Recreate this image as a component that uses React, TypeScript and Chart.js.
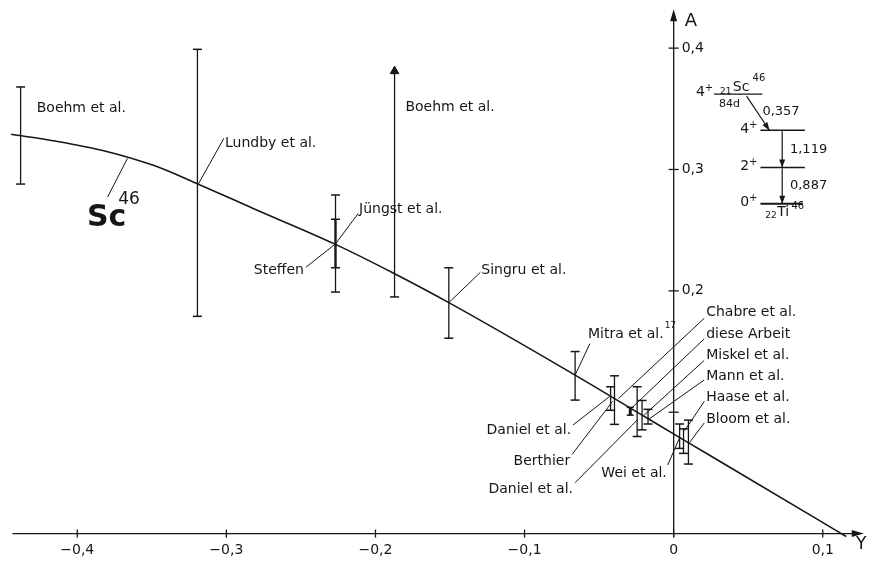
import React, { useEffect, useRef } from "react";
import { Chart, registerables } from "chart.js";

Chart.register(...registerables);

// ---- Data: theoretical curve A(Y) for Sc46 ----
const curveY = [-0.4444, -0.4147, -0.3816, -0.3485, -0.3188, -0.2824, -0.2275, -0.1878, -0.1508, -0.0661, -0.0179, 0.0086, 0.0351, 0.0959, 0.1157];
const curveA = [0.329, 0.3234, 0.3153, 0.3032, 0.2879, 0.2681, 0.2387, 0.2145, 0.1903, 0.1306, 0.0952, 0.0758, 0.0565, 0.0121, -0.0024];

// ---- Data: measurements with error bars ----
const barY = [-0.438, -0.3194, -0.2268, -0.2268, -0.1508, -0.0661, -0.0423, -0.0397, -0.0291, -0.0245, -0.0212, -0.0172, 0.004, 0.0066, 0.0099];
const barLow = [0.288, 0.179, 0.199, 0.219, 0.161, 0.11, 0.1016, 0.09, 0.0976, 0.08, 0.0855, 0.0903, 0.0702, 0.0661, 0.0573];
const barHigh = [0.368, 0.399, 0.279, 0.259, 0.219, 0.15, 0.121, 0.13, 0.104, 0.121, 0.1097, 0.1024, 0.0903, 0.0863, 0.0935];

// ---- Data: lower limit (arrow) ----
const limitY = [-0.1872];
const limitLow = [0.195];
const limitHigh = [0.381];

// ---- Axis ticks ----
const xTicks = [-0.4, -0.3, -0.2, -0.1, 0, 0.1];
const xTickLabels = ["\u22120,4", "\u22120,3", "\u22120,2", "\u22120,1", "0", "0,1"];
const yTicks = [0.1, 0.2, 0.3, 0.4];
const yTickLabels = ["", "0,2", "0,3", "0,4"];

// ---- View extents ----
const X_MIN = -0.4478;
const X_MAX = 0.129;
const Y_MIN = -0.0234;
const Y_MAX = 0.4347;

const INK = "#161616";
const FONT = '"DejaVu Sans", "Liberation Sans", sans-serif';

type Note = { t: string; x: number; y: number; align?: CanvasTextAlign; sup?: string; lead?: number[] };

const notes: Note[] = [
  { t: "Boehm et al.", x: -0.4272, y: 0.35 },
  { t: "Lundby et al.", x: -0.3009, y: 0.3218, lead: [-0.3188, 0.288, -0.3016, 0.3258] },
  { t: "Jüngst et al.", x: -0.211, y: 0.2669, lead: [-0.2268, 0.2387, -0.2116, 0.2637] },
  { t: "Steffen", x: -0.248, y: 0.2169, align: "right", lead: [-0.2268, 0.2387, -0.2467, 0.2194] },
  { t: "Boehm et al.", x: -0.1799, y: 0.3508 },
  { t: "Singru et al.", x: -0.129, y: 0.2169, lead: [-0.1508, 0.1903, -0.1296, 0.2153] },
  { t: "Mitra et al.", sup: "17", x: -0.0575, y: 0.1645, lead: [-0.0661, 0.1306, -0.0562, 0.1565] },
  { t: "Chabre et al.", x: 0.0218, y: 0.1823, lead: [0.0205, 0.1774, -0.037, 0.1113] },
  { t: "diese Arbeit", x: 0.0218, y: 0.1645, lead: [0.0205, 0.1605, -0.0284, 0.1032] },
  { t: "Miskel et al.", x: 0.0218, y: 0.1468, lead: [0.0205, 0.1427, -0.0205, 0.0968] },
  { t: "Mann et al.", x: 0.0218, y: 0.1298, lead: [0.0205, 0.1266, -0.0165, 0.0944] },
  { t: "Haase et al.", x: 0.0218, y: 0.1121, lead: [0.0205, 0.1089, 0.0073, 0.0847] },
  { t: "Bloom et al.", x: 0.0218, y: 0.0944, lead: [0.0205, 0.0911, 0.0106, 0.075] },
  { t: "Daniel et al.", x: -0.0688, y: 0.0847, align: "right", lead: [-0.0675, 0.0895, -0.043, 0.1129] },
  { t: "Berthier", x: -0.0694, y: 0.0597, align: "right", lead: [-0.0681, 0.0653, -0.041, 0.1089] },
  { t: "Daniel et al.", x: -0.0675, y: 0.0363, align: "right", lead: [-0.0661, 0.0419, -0.0245, 0.0935] },
  { t: "Wei et al.", x: -0.0046, y: 0.05, align: "right", lead: [-0.004, 0.0565, 0.004, 0.079] },
];

function arrowHead(ctx: CanvasRenderingContext2D, tx: number, ty: number, fx: number, fy: number, len: number, half: number) {
  const ang = Math.atan2(ty - fy, tx - fx);
  ctx.beginPath();
  ctx.moveTo(tx, ty);
  ctx.lineTo(tx - len * Math.cos(ang) + half * Math.sin(ang), ty - len * Math.sin(ang) - half * Math.cos(ang));
  ctx.lineTo(tx - len * Math.cos(ang) - half * Math.sin(ang), ty - len * Math.sin(ang) + half * Math.cos(ang));
  ctx.closePath();
  ctx.fill();
}

function seg(ctx: CanvasRenderingContext2D, a: number, b: number, c: number, d: number) {
  ctx.beginPath();
  ctx.moveTo(a, b);
  ctx.lineTo(c, d);
  ctx.stroke();
}

// text with a raised "+" (spin label), right aligned at x
function spin(ctx: CanvasRenderingContext2D, s: string, x: number, y: number) {
  ctx.textBaseline = "middle";
  ctx.font = `10px ${FONT}`;
  const wp = ctx.measureText("+").width;
  ctx.textAlign = "right";
  ctx.fillText("+", x, y - 4);
  ctx.font = `14px ${FONT}`;
  ctx.fillText(s, x - wp, y);
}

const annotPlugin = {
  id: "annot",
  afterDraw(chart: any) {
    const ctx: CanvasRenderingContext2D = chart.ctx;
    const X = (v: number) => chart.scales.x.getPixelForValue(v);
    const Y = (v: number) => chart.scales.y.getPixelForValue(v);
    ctx.save();
    ctx.strokeStyle = INK;
    ctx.fillStyle = INK;
    ctx.lineWidth = 1.3;
    const x0 = X(0);
    const y0 = Y(0);

    // x axis
    seg(ctx, X(-0.4435), y0, X(0.1275) - 6, y0);
    arrowHead(ctx, X(0.1275), y0, X(0), y0, 12, 3.5);
    // y axis
    seg(ctx, x0, Y(-0.003), x0, Y(0.432) + 6);
    arrowHead(ctx, x0, Y(0.432), x0, y0, 12, 3.5);

    ctx.font = `14px ${FONT}`;
    ctx.textBaseline = "middle";
    ctx.textAlign = "center";
    xTicks.forEach((v, i) => {
      const px = X(v);
      seg(ctx, px, y0 - 4, px, y0 + 4);
      ctx.fillText(xTickLabels[i], px, y0 + 17);
    });
    ctx.textAlign = "left";
    yTicks.forEach((v, i) => {
      const py = Y(v);
      seg(ctx, x0 - 5, py, x0 + 5, py);
      if (yTickLabels[i]) ctx.fillText(yTickLabels[i], x0 + 8, py);
    });
    ctx.font = `18px ${FONT}`;
    ctx.fillText("A", x0 + 11, Y(0.4218));
    ctx.textAlign = "center";
    ctx.font = `17px ${FONT}`;
    ctx.fillText("Y", X(0.1258), y0 + 11);

    // labels with leaders
    ctx.lineWidth = 1;
    notes.forEach((n) => {
      ctx.font = `14px ${FONT}`;
      ctx.textAlign = n.align || "left";
      ctx.textBaseline = "middle";
      const px = X(n.x);
      const py = Y(n.y);
      ctx.fillText(n.t, px, py);
      if (n.sup) {
        const w = ctx.measureText(n.t).width;
        ctx.font = `9px ${FONT}`;
        ctx.textAlign = "left";
        ctx.fillText(n.sup, px + w + 1, py - 8);
      }
      if (n.lead) seg(ctx, X(n.lead[0]), Y(n.lead[1]), X(n.lead[2]), Y(n.lead[3]));
    });

    // Sc46 big label
    ctx.textAlign = "left";
    ctx.textBaseline = "alphabetic";
    ctx.font = `bold 30px ${FONT}`;
    ctx.fillText("Sc", X(-0.3935), Y(0.2532));
    ctx.font = `17px ${FONT}`;
    ctx.fillText("46", X(-0.3725), Y(0.2718));
    seg(ctx, X(-0.3664), Y(0.309), X(-0.3796), Y(0.2774));

    // ---- level scheme inset ----
    ctx.lineWidth = 1.4;
    seg(ctx, X(0.0271), Y(0.3621), X(0.0595), Y(0.3621));
    seg(ctx, X(0.0582), Y(0.3323), X(0.088), Y(0.3323));
    seg(ctx, X(0.0582), Y(0.3016), X(0.088), Y(0.3016));
    ctx.lineWidth = 2;
    seg(ctx, X(0.0582), Y(0.2718), X(0.0866), Y(0.2718));
    ctx.lineWidth = 1.2;
    seg(ctx, X(0.0489), Y(0.3605), X(0.0642), Y(0.3323));
    arrowHead(ctx, X(0.0642), Y(0.3323), X(0.0489), Y(0.3605), 8, 3);
    seg(ctx, X(0.0728), Y(0.3315), X(0.0728), Y(0.3016));
    arrowHead(ctx, X(0.0728), Y(0.3016), X(0.0728), Y(0.3315), 8, 3);
    seg(ctx, X(0.0728), Y(0.3008), X(0.0728), Y(0.2718));
    arrowHead(ctx, X(0.0728), Y(0.2718), X(0.0728), Y(0.3008), 8, 3);

    spin(ctx, "4", X(0.0265), Y(0.3637));
    spin(ctx, "4", X(0.0562), Y(0.3331));
    spin(ctx, "2", X(0.0562), Y(0.3024));
    spin(ctx, "0", X(0.0562), Y(0.2726));

    ctx.textAlign = "left";
    ctx.textBaseline = "alphabetic";
    ctx.font = `9px ${FONT}`;
    ctx.fillText("21", X(0.0311), Y(0.3621));
    ctx.font = `14px ${FONT}`;
    ctx.fillText("Sc", X(0.0397), Y(0.3645));
    ctx.font = `10px ${FONT}`;
    ctx.fillText("46", X(0.0529), Y(0.3726));
    ctx.font = `11px ${FONT}`;
    ctx.fillText("84d", X(0.0304), Y(0.3516));
    ctx.font = `9px ${FONT}`;
    ctx.fillText("22", X(0.0615), Y(0.2597));
    ctx.font = `14px ${FONT}`;
    ctx.fillText("Ti", X(0.0694), Y(0.2613));
    ctx.font = `10px ${FONT}`;
    ctx.fillText("46", X(0.079), Y(0.2677));

    ctx.textBaseline = "middle";
    ctx.font = `13px ${FONT}`;
    ctx.fillText("0,357", X(0.0595), Y(0.3476));
    ctx.fillText("1,119", X(0.078), Y(0.3161));
    ctx.fillText("0,887", X(0.078), Y(0.2871));

    ctx.restore();
  },
};

export default function App() {
  const ref = useRef<HTMLCanvasElement | null>(null);

  useEffect(() => {
    document.body.style.margin = "0";
    const canvas = ref.current;
    if (!canvas) return;

    const datasets: any[] = [];
    datasets.push({
      data: curveY.map((x, i) => ({ x, y: curveA[i] })),
      showLine: true,
      borderColor: INK,
      borderWidth: 1.6,
      pointRadius: 0,
      cubicInterpolationMode: "monotone",
    });
    const heavyGray = 3;
    const heavyBlack = 8;
    barY.forEach((x, i) => {
      const gray = i === heavyGray;
      const bold = i === heavyBlack;
      const col = gray ? "#6a6a6a" : INK;
      datasets.push({
        data: [
          { x, y: barLow[i] },
          { x, y: barHigh[i] },
        ],
        showLine: true,
        borderColor: col,
        borderWidth: gray || bold ? 3 : 1.3,
        pointStyle: "line",
        pointRadius: bold ? 3.5 : 4.5,
        pointBorderColor: bold || gray ? INK : col,
        pointBorderWidth: 1.5,
        pointBackgroundColor: col,
      });
    });
    limitY.forEach((x, i) => {
      datasets.push({
        data: [
          { x, y: limitLow[i] },
          { x, y: limitHigh[i] },
        ],
        showLine: true,
        borderColor: INK,
        borderWidth: 1.3,
        pointStyle: ["line", "triangle"],
        pointRadius: [4.5, 5],
        pointBorderColor: INK,
        pointBorderWidth: [1.5, 1],
        pointBackgroundColor: INK,
      });
    });

    const chart = new Chart(canvas, {
      type: "scatter",
      data: { datasets },
      options: {
        animation: false,
        responsive: false,
        devicePixelRatio: 1,
        events: [],
        layout: { padding: 0 },
        plugins: { legend: { display: false }, tooltip: { enabled: false } },
        scales: {
          x: { type: "linear", min: X_MIN, max: X_MAX, display: false },
          y: { type: "linear", min: Y_MIN, max: Y_MAX, display: false },
        },
      },
      plugins: [annotPlugin],
    });
    return () => chart.destroy();
  }, []);

  return (
    <div style={{ width: 872, height: 568, background: "#fff" }}>
      <canvas ref={ref} width={872} height={568} style={{ display: "block" }} />
    </div>
  );
}
